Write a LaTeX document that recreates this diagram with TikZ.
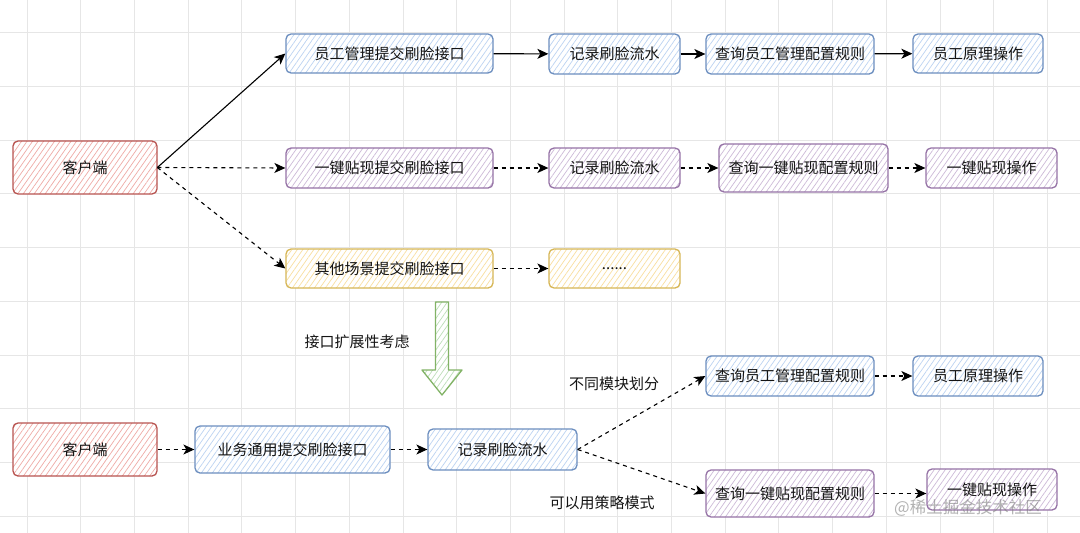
\documentclass[tikz,border=0pt]{standalone}
\usepackage{fontspec}
\newfontfamily\cjk{Noto Sans CJK SC}
\usetikzlibrary{arrows.meta,patterns.meta}
\definecolor{rs}{HTML}{B85450}\definecolor{rf}{HTML}{EFAAA6}
\definecolor{bs}{HTML}{6C8EBF}\definecolor{bf}{HTML}{BCD3F2}
\definecolor{ps}{HTML}{9673A6}\definecolor{pf}{HTML}{CDBAD8}
\definecolor{ys}{HTML}{D6B656}\definecolor{yf}{HTML}{F9DFA0}
\definecolor{gs}{HTML}{82B366}\definecolor{gf}{HTML}{BCDDB8}
\definecolor{gridc}{HTML}{E6E6E6}
\definecolor{txt}{HTML}{141414}
\tikzset{
  hatch/.style={preaction={fill=white},pattern={Lines[angle=55,distance=4.5pt,line width=0.7pt]},pattern color=#1},
  box/.style={rounded corners=5pt,line width=1.3pt,align=center,inner sep=0pt,text=txt,
    font=\cjk\fontsize{15}{18}\selectfont},
  redbox/.style={box,draw=rs,hatch=rf},
  bluebox/.style={box,draw=bs,hatch=bf},
  purbox/.style={box,draw=ps,hatch=pf},
  yelbox/.style={box,draw=ys,hatch=yf},
  lbl/.style={text=txt,font=\cjk\fontsize{15}{18}\selectfont,inner sep=0pt},
  arr/.style={line width=1.1pt,-{Stealth[length=11pt,width=10pt,inset=3pt]}},
  darr/.style={arr,dash pattern=on 4pt off 4pt},
}
\begin{document}
\begin{tikzpicture}[x=1pt,y=-1pt]
\useasboundingbox (0,0) rectangle (1080,533);
\fill[white] (0,0) rectangle (1080,533);
\foreach \k in {0,...,19} \draw[gridc,line width=0.8pt] ({27+53.7*\k},0) -- ({27+53.7*\k},533);
\foreach \k in {0,...,9} \draw[gridc,line width=0.8pt] (0,{32.7+53.7*\k}) -- (1080,{32.7+53.7*\k});

% top part
\node[redbox,minimum width=144pt,minimum height=53pt] (c1) at (85,167.5) {客户端};
\node[bluebox,minimum width=207pt,minimum height=39pt] (a1) at (389.5,53.5) {员工管理提交刷脸接口};
\node[bluebox,minimum width=131pt,minimum height=40pt] (b1) at (614.5,54) {记录刷脸流水};
\node[bluebox,minimum width=168pt,minimum height=40pt] (q1) at (790,54) {查询员工管理配置规则};
\node[bluebox,minimum width=130pt,minimum height=39pt] (o1) at (978,53.5) {员工原理操作};

\node[purbox,minimum width=207pt,minimum height=40pt] (a2) at (389.5,168) {一键贴现提交刷脸接口};
\node[purbox,minimum width=131pt,minimum height=40pt] (b2) at (614.5,168) {记录刷脸流水};
\node[purbox,minimum width=169pt,minimum height=48pt] (q2) at (803.5,168) {查询一键贴现配置规则};
\node[purbox,minimum width=131pt,minimum height=40pt] (o2) at (991.5,168) {一键贴现操作};

\node[yelbox,minimum width=207pt,minimum height=39pt] (a3) at (389.5,268.5) {其他场景提交刷脸接口};
\node[yelbox,minimum width=131pt,minimum height=39pt] (b3) at (614.5,268.5) {......};

\draw[arr] (c1.east) -- (a1.west);
\draw[darr] (c1.east) -- (a2.west);
\draw[darr] (c1.east) -- (a3.west);
\draw[arr] (a1) -- (b1);
\draw[arr] (b1) -- (q1);
\draw[arr] (q1) -- (o1);
\draw[darr] (a2) -- (b2);
\draw[darr] (b2) -- (q2);
\draw[darr] (q2) -- (o2);
\draw[darr] (a3) -- (b3);

% transition
\draw[gs,line width=1.3pt,hatch=gf,line join=round] (435.5,302) -- (448.5,302) -- (448.5,370) -- (462,370) -- (442,395) -- (422,370) -- (435.5,370) -- cycle;
\node[lbl] (t1) at (357,342) {接口扩展性考虑};

% bottom part
\node[redbox,minimum width=144pt,minimum height=53pt] (cb) at (85,449.5) {客户端};
\node[bluebox,minimum width=195pt,minimum height=47pt] (ub) at (292.5,449.5) {业务通用提交刷脸接口};
\node[bluebox,minimum width=149pt,minimum height=41pt] (rb) at (502.5,449.5) {记录刷脸流水};
\node[bluebox,minimum width=168pt,minimum height=40pt] (qb1) at (790,376) {查询员工管理配置规则};
\node[bluebox,minimum width=130pt,minimum height=40pt] (ob1) at (978,376) {员工原理操作};
\node[purbox,minimum width=168pt,minimum height=47pt] (qb2) at (790,493.5) {查询一键贴现配置规则};
\node[purbox,minimum width=130pt,minimum height=41pt] (ob2) at (992,489.5) {一键贴现操作};

\draw[darr] (cb) -- (ub);
\draw[darr] (ub) -- (rb);
\draw[darr] (rb.east) -- (qb1.west);
\draw[darr] (rb.east) -- (qb2.west);
\draw[darr] (qb1) -- (ob1);
\draw[darr] (qb2.east) -- (ob2.west |- qb2.east);

\node[lbl] (t2) at (614,384) {不同模块划分};
\node[lbl] (t3) at (602,503) {可以用策略模式};

\node[text=gray,opacity=0.6,font=\cjk\fontsize{16.5}{18}\selectfont,inner sep=0pt] (wm) at (968,508) {@稀土掘金技术社区};
\end{tikzpicture}
\end{document}
